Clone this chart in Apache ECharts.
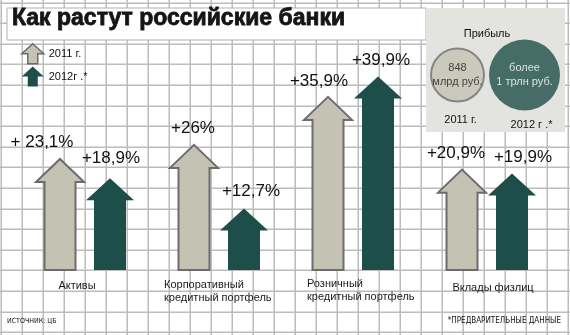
<!DOCTYPE html>
<html><head><meta charset="utf-8">
<script src="https://cdn.jsdelivr.net/npm/echarts@6/dist/echarts.min.js"></script>
<style>html,body{margin:0;padding:0;background:#fff}#c{width:570px;height:335px;background:#fff}</style>
</head><body><div id="c"></div>
<script>
// ---- data ----
const categories = ['Активы', 'Корпоративный\nкредитный портфель', 'Розничный\nкредитный портфель', 'Вклады физлиц'];
const growth2011 = [23.1, 26, 35.9, 20.9];
const growth2012 = [18.9, 12.7, 39.9, 19.9];
const labels2011 = ['+ 23,1%', '+26%', '+35,9%', '+20,9%'];
const labels2012 = ['+18,9%', '+12,7%', '+39,9%', '+19,9%'];
const seriesNames = ['2011 г.', '2012г .*'];
const profitYears = ['2011 г.', '2012 г .*'];
const profitText = [['848', 'млрд руб.'], ['более', '1 трлн руб.']];
const titleText = 'Как растут российские банки';
const profitTitle = 'Прибыль';
const sourceText = 'ИСТОЧНИК: ЦБ';
const noteText = '*ПРЕДВАРИТЕЛЬНЫЕ ДАННЫЕ';

// ---- layout / style ----
const LIGHT = '#c3c2b3', LIGHT_BORDER = '#6c6c6c', DARK = '#1e4e4a';
const FONT = '"Liberation Sans", Arial, sans-serif';
const NARROW = '"Liberation Sans Narrow", "Arial Narrow", "DejaVu Sans Condensed", sans-serif';
const labelDx2011 = [-18, -1, -9, -6], labelGap2011 = [10, 10, 9, 9];
const labelDx2012 = [1, 7, 3, 11], labelGap2012 = [14, 11, 10, 10];
const catLayout = [
  {dx: -8, dy: 9, align: 'center'},
  {dx: -55, dy: 8, align: 'left'},
  {dx: -46, dy: 7, align: 'left'},
  {dx: 6, dy: 11, align: 'center'}
];
const profitSizes = [53, 71];
const arrowIcon = 'path://M11,0 L22,10 L16,10 L16,20 L6,20 L6,10 L0,10 Z';

// decorative background paper grid: [orientation (0 = vertical, 1 = horizontal), pixel position]
const GRID_COLOR = '#bcbcbc';
const paperLines = [];
for (let k = 0; k <= 27; k++) paperLines.push([0, Math.round(1 + 21 * k)]);
for (let k = 0; k <= 16; k++) paperLines.push([1, Math.round(2.5 + 20.6 * k)]);

function arrowRenderer(shift, shaftW, headW, headH, fill, stroke, lw, labels, ldx, lgap) {
  return function (params, api) {
    const i = params.dataIndex;
    const base = api.coord([api.value(0), 0]);
    const tip = api.coord([api.value(0), api.value(1)]);
    const cx = base[0] + shift;
    const by = base[1], ty = tip[1] + lw / 2, hy = ty + headH;
    const pts = [[cx - shaftW / 2, by], [cx - shaftW / 2, hy], [cx - headW / 2, hy], [cx, ty],
                 [cx + headW / 2, hy], [cx + shaftW / 2, hy], [cx + shaftW / 2, by]];
    return {type: 'group', children: [
      {type: 'polygon', shape: {points: pts}, style: {fill: fill, stroke: stroke, lineWidth: lw, lineJoin: 'miter'}},
      {type: 'text', x: cx + ldx[i], y: tip[1] - lgap[i] - 6,
       style: {text: labels[i], fill: '#111', font: '17px ' + FONT, align: 'center', verticalAlign: 'middle'}}
    ]};
  };
}

const chart = echarts.init(document.getElementById('c'), null, {renderer: 'canvas'});
chart.setOption({
  animation: false,
  title: {text: titleText, left: 12, top: 7, padding: 0, z: 8,
    textStyle: {fontSize: 23, fontWeight: 900, fontFamily: FONT, color: '#151515', textBorderColor: '#151515', textBorderWidth: 0.8}},
  legend: {orient: 'vertical', left: 21, top: 43, padding: 0, itemWidth: 22, itemHeight: 20, itemGap: 2, selectedMode: false, z: 8,
    textStyle: {fontSize: 11, color: '#111', fontFamily: FONT},
    data: [
      {name: seriesNames[0], icon: arrowIcon, itemStyle: {color: LIGHT, borderColor: LIGHT_BORDER, borderWidth: 1.5}},
      {name: seriesNames[1], icon: arrowIcon, itemStyle: {color: DARK, borderWidth: 0}}
    ]},
  grid: [
    {left: 18, width: 536, top: 27.5, height: 242.5},
    {left: 424, width: 134, top: 40, height: 70}
  ],
  xAxis: [
    {gridIndex: 0, type: 'category', data: categories, show: false},
    {gridIndex: 1, type: 'category', data: profitYears, axisLine: {show: false}, axisTick: {show: false}, z: 8,
      axisLabel: {margin: 4, verticalAlign: 'top', interval: 0,
        formatter: function (v, i) { return i === 0 ? '{a|' + v + '}' : '{b|' + v + '}'; },
        rich: {a: {fontSize: 11, color: '#111', fontFamily: FONT, padding: [0, 0, 0, 6]},
               b: {fontSize: 11, color: '#111', fontFamily: FONT, padding: [5, 0, 0, 14]}}}}
  ],
  yAxis: [
    {gridIndex: 0, type: 'value', min: 0, max: 50, show: false},
    {gridIndex: 1, type: 'value', min: -1, max: 1, show: false}
  ],
  graphic: {elements: [
    {type: 'rect', x: 7, y: 8, z: 4, shape: {x: 0, y: 0, width: 419, height: 32}, style: {fill: '#fff', stroke: '#b0b0b0', lineWidth: 1}},
    {type: 'rect', x: 426, y: 8, z: 4, shape: {x: 0, y: 0, width: 139, height: 124}, style: {fill: '#e3e3df'}},
    {type: 'text', x: 487, y: 34, z: 8, style: {text: profitTitle, font: '11px ' + FONT, fill: '#111', align: 'center', verticalAlign: 'middle'}},
    {type: 'text', x: 7, y: 321, z: 8, style: {text: sourceText, font: '7px ' + NARROW, fill: '#111', align: 'left', verticalAlign: 'middle'}},
    {type: 'text', x: 561, y: 321, z: 8, style: {text: noteText, font: '8px ' + NARROW, fill: '#111', align: 'right', verticalAlign: 'middle'}}
  ]},
  series: [
    {name: 'paper', type: 'custom', coordinateSystem: 'none', z: 3, silent: true,
      renderItem: function (params, api) {
        const o = api.value(0), p = api.value(1);
        return {type: 'rect', shape: o === 0 ? {x: p - 0.5, y: 0, width: 1.5, height: 335} : {x: 0, y: p - 0.5, width: 570, height: 1.5},
          style: {fill: GRID_COLOR}};
      },
      data: paperLines},
    {name: seriesNames[0], type: 'custom', xAxisIndex: 0, yAxisIndex: 0, z: 5,
      itemStyle: {color: LIGHT, borderColor: LIGHT_BORDER, borderWidth: 1.5},
      renderItem: arrowRenderer(-25, 31, 48, 23, LIGHT, LIGHT_BORDER, 2, labels2011, labelDx2011, labelGap2011),
      data: growth2011.map(function (v, i) { return [i, v]; })},
    {name: seriesNames[1], type: 'custom', xAxisIndex: 0, yAxisIndex: 0, z: 5,
      itemStyle: {color: DARK},
      renderItem: arrowRenderer(25, 32, 48, 22, DARK, null, 0, labels2012, labelDx2012, labelGap2012),
      data: growth2012.map(function (v, i) { return [i, v]; })},
    {name: 'cats', type: 'custom', xAxisIndex: 0, yAxisIndex: 0, z: 6, silent: true,
      renderItem: function (params, api) {
        const i = params.dataIndex, p = api.coord([api.value(0), 0]), L = catLayout[i];
        return {type: 'text', x: p[0] + L.dx, y: p[1] + L.dy,
          style: {text: categories[i], font: '11px ' + FONT, fill: '#1a1a1a', align: L.align, verticalAlign: 'top', lineHeight: 13}};
      },
      data: categories.map(function (c, i) { return [i, 0]; })},
    {name: 'profit', type: 'scatter', xAxisIndex: 1, yAxisIndex: 1, z: 6, silent: true,
      symbolSize: function (val, params) { return profitSizes[params.dataIndex]; },
      data: profitYears.map(function (y, i) {
        return {value: [i, 0],
          itemStyle: i === 0 ? {color: LIGHT, borderColor: '#707070', borderWidth: 2} : {color: DARK},
          label: {show: true, position: 'inside', formatter: profitText[i].join('\n'),
            color: i === 0 ? '#222' : '#fff', fontSize: 11, lineHeight: 14, fontFamily: FONT}};
      })}
  ]
});
</script></body></html>
